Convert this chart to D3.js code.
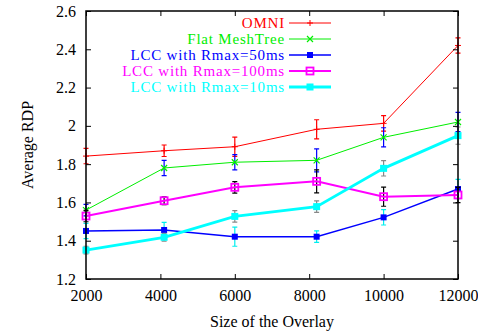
<!DOCTYPE html>
<html>
<head>
<meta charset="utf-8">
<script src="https://cdn.jsdelivr.net/npm/d3@7"></script>
<style>
  body { margin: 0; background: #fff; }
  svg text { font-family: "Liberation Serif", "Times New Roman", serif !important; }
</style>
</head>
<body>
<svg id="chart" width="478" height="333"></svg>
<script>
// Data
const sizes = [2000, 4100, 6000, 8200, 10000, 12000];
const xTicks = [2000, 4000, 6000, 8000, 10000, 12000];
const yTicks = [1.2, 1.4, 1.6, 1.8, 2.0, 2.2, 2.4, 2.6];

const omni = [1.842, 1.870, 1.891, 1.982, 2.013, 2.42];
const omniErr = [0.04, 0.03, 0.05, 0.05, 0.04, 0.04];
const flat = [1.56, 1.78, 1.81, 1.82, 1.94, 2.02];
const flatErr = [0.03, 0.04, 0.04, 0.06, 0.05, 0.05];
const lcc50 = [1.451, 1.456, 1.421, 1.421, 1.522, 1.67];
const lcc50Err = [0.04, 0.04, 0.05, 0.03, 0.04, 0.05];
const lcc100 = [1.529, 1.609, 1.679, 1.71, 1.63, 1.639];
const lcc100Err = [0.03, 0.02, 0.03, 0.06, 0.05, 0.04];
const lcc10 = [1.351, 1.418, 1.527, 1.578, 1.778, 1.949];
const lcc10Err = [0.02, 0.02, 0.03, 0.03, 0.04, 0.045];

const series = [
  { name: 'OMNI', values: omni, err: omniErr, color: '#ff0000', errColor: '#ff0000', width: 1, marker: 'plus' },
  { name: 'Flat MeshTree', values: flat, err: flatErr, color: '#00ee00', errColor: '#0000ff', width: 1, marker: 'cross' },
  { name: 'LCC with Rmax=50ms', values: lcc50, err: lcc50Err, color: '#0000ff', errColor: '#00eeee', width: 1.4, marker: 'square' },
  { name: 'LCC with Rmax=100ms', values: lcc100, err: lcc100Err, color: '#ff00ff', errColor: '#000000', width: 2, marker: 'openSquare' },
  { name: 'LCC with Rmax=10ms', values: lcc10, err: lcc10Err, color: '#00ffff', errColor: '#888888', width: 2.8, marker: 'bigSquare' }
];

const svg = d3.select('#chart');
const margin = { left: 86, right: 20, top: 11, bottom: 54 };
const width = 478 - margin.left - margin.right;
const height = 333 - margin.top - margin.bottom;

const x = d3.scaleLinear().domain([2000, 12000]).range([margin.left, margin.left + width]);
const y = d3.scaleLinear().domain([1.2, 2.6]).range([margin.top + height, margin.top]);

const serif = '"Liberation Serif", "Times New Roman", serif';
const g = svg.append('g');

function drawMarker(sel, type, color, cx, cy) {
  if (type === 'plus') {
    sel.append('path').attr('d', `M${cx - 3},${cy}h6M${cx},${cy - 3}v6`)
      .attr('stroke', color).attr('stroke-width', 1);
  } else if (type === 'cross') {
    sel.append('path').attr('d', `M${cx - 3},${cy - 3}l6,6M${cx - 3},${cy + 3}l6,-6`)
      .attr('stroke', color).attr('stroke-width', 1.2);
  } else if (type === 'square') {
    sel.append('rect').attr('x', cx - 3).attr('y', cy - 3).attr('width', 6).attr('height', 6)
      .attr('fill', color);
  } else if (type === 'openSquare') {
    sel.append('rect').attr('x', cx - 3.5).attr('y', cy - 3.5).attr('width', 7).attr('height', 7)
      .attr('fill', 'none').attr('stroke', color).attr('stroke-width', 1.8);
  } else if (type === 'bigSquare') {
    sel.append('rect').attr('x', cx - 3.5).attr('y', cy - 3.5).attr('width', 7).attr('height', 7)
      .attr('fill', color);
  }
}

series.forEach(function (s) {
  const layer = g.append('g');
  // error bars
  s.values.forEach(function (v, i) {
    const cx = x(sizes[i]);
    const top = y(v + s.err[i]);
    const bot = y(v - s.err[i]);
    layer.append('path')
      .attr('d', `M${cx},${top}V${bot}M${cx - 2.5},${top}h5M${cx - 2.5},${bot}h5`)
      .attr('stroke', s.errColor).attr('stroke-width', 1.2).attr('fill', 'none');
  });
  // line
  const line = d3.line().x((d, i) => x(sizes[i])).y(d => y(d));
  layer.append('path').datum(s.values).attr('d', line)
    .attr('fill', 'none').attr('stroke', s.color).attr('stroke-width', s.width);
  s.values.forEach(function (v, i) {
    drawMarker(layer, s.marker, s.color, x(sizes[i]), y(v));
  });
});

// Frame and ticks (inward, mirrored)
const axisG = svg.append('g');
axisG.append('rect')
  .attr('x', margin.left).attr('y', margin.top).attr('width', width).attr('height', height)
  .attr('fill', 'none').attr('stroke', '#000').attr('stroke-width', 1.5);

const bottomAxis = d3.axisBottom(x).tickValues(xTicks).tickSize(-5).tickPadding(11).tickFormat(d3.format('d'));
const topAxis = d3.axisTop(x).tickValues(xTicks).tickSize(-5).tickFormat('');
const leftAxis = d3.axisLeft(y).tickValues(yTicks).tickSize(-5).tickPadding(10)
  .tickFormat(d => d === 2 ? '2' : d3.format('.1f')(d));
const rightAxis = d3.axisRight(y).tickValues(yTicks).tickSize(-5).tickFormat('');

function styleAxis(a) {
  a.attr('font-family', serif).attr('font-size', 16);
  a.select('.domain').remove();
  a.selectAll('.tick line').attr('stroke', '#000').attr('stroke-width', 1);
  a.selectAll('.tick text').attr('fill', '#000');
}

styleAxis(axisG.append('g').attr('transform', `translate(0,${margin.top + height})`).call(bottomAxis));
styleAxis(axisG.append('g').attr('transform', `translate(0,${margin.top})`).call(topAxis));
styleAxis(axisG.append('g').attr('transform', `translate(${margin.left},0)`).call(leftAxis));
styleAxis(axisG.append('g').attr('transform', `translate(${margin.left + width},0)`).call(rightAxis));

// Axis titles
svg.append('text')
  .attr('x', 272).attr('y', 327)
  .attr('text-anchor', 'middle').attr('font-family', serif).attr('font-size', 16)
  .text('Size of the Overlay');

svg.append('text')
  .attr('transform', 'translate(33,145) rotate(-90)')
  .attr('text-anchor', 'middle').attr('font-family', serif).attr('font-size', 16)
  .text('Average RDP');

// Legend
const legend = svg.append('g');
series.forEach(function (s, i) {
  const ly = 23 + i * 16;
  legend.append('text')
    .attr('x', 285).attr('y', ly + 5)
    .attr('text-anchor', 'end').attr('fill', s.color)
    .attr('font-family', serif).attr('font-size', 15)
    .attr('letter-spacing', 0.8)
    .text(s.name);
  legend.append('line')
    .attr('x1', 289).attr('x2', 331).attr('y1', ly).attr('y2', ly)
    .attr('stroke', s.color).attr('stroke-width', s.width);
  drawMarker(legend, s.marker, s.color, 310, ly);
});
</script>
</body>
</html>
